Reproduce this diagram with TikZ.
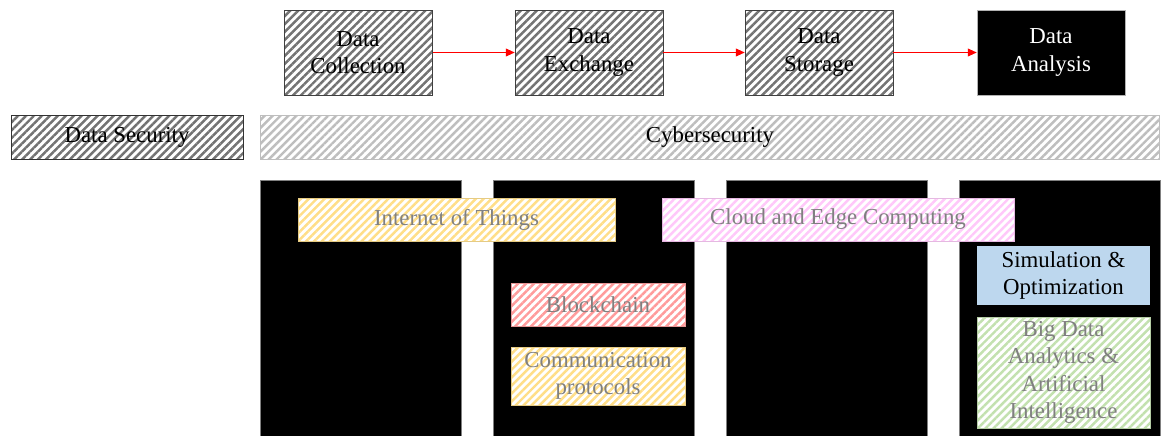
\documentclass[tikz,border=0pt]{standalone}
\usepackage{fontspec}
\setmainfont{Liberation Serif}
\newfontfamily\diagfont{Liberation Serif}
\usetikzlibrary{arrows.meta,positioning,patterns.meta}
\definecolor{hatchdark}{RGB}{115,115,115}
\definecolor{hatchlight}{RGB}{190,190,190}
\definecolor{iotyellow}{RGB}{255,222,135}
\definecolor{cloudpink}{RGB}{255,200,250}
\definecolor{chainred}{RGB}{255,155,155}
\definecolor{aigreen}{RGB}{195,225,175}
\definecolor{simblue}{RGB}{189,215,238}
\definecolor{labelgray}{RGB}{128,128,128}
\tikzset{
  hatch/.style={preaction={fill=white},
    pattern={Lines[angle=45,distance=3.2pt,line width=1.4pt]},pattern color=#1},
  txt/.style={align=center,inner sep=1pt,
    font=\diagfont\fontsize{13}{15.5}\selectfont},
  stagebox/.style={txt,hatch=hatchdark,draw=black!75,
    minimum width=2.96cm,minimum height=1.70cm},
  techbox/.style={txt,hatch=#1,draw=#1!80!gray,text=labelgray},
  column/.style={fill=black,draw=gray,minimum width=4.02cm,minimum height=5.12cm},
  flow/.style={red,-{Triangle[length=5pt,width=4.5pt]}}
}

\begin{document}
\begin{tikzpicture}[x=0.02cm,y=-0.02cm]
  \useasboundingbox (0,0) rectangle (1161,436);
  % process stages
  \foreach \name/\x/\lbl in {coll/358/Data\\Collection,
    exch/589/Data\\Exchange, stor/819/Data\\Storage}
    \node[stagebox] (\name) at (\x,52.5) {\lbl};
  \node[txt,fill=black,draw=gray!60,text=white,
    minimum width=2.96cm,minimum height=1.70cm] (anal) at (1051,52.5) {Data\\Analysis};
  \foreach \a/\b in {coll/exch,exch/stor,stor/anal}
    \draw[flow] (\a) -- (\b);

  % security layer
  \node[txt,hatch=hatchdark,draw=black!80,minimum width=4.64cm,
    minimum height=0.88cm] (datasec) at (127,137) {Data Security};
  \node[txt,hatch=hatchlight,draw=hatchlight,minimum width=17.98cm,
    minimum height=0.88cm] (cyber) at (710,137) {Cybersecurity};

  % columns
  \foreach \x [count=\i] in {360.5,593.5,826.5,1060}
    \node[column] (col\i) at (\x,308) {};

  % technologies
  \node[techbox=iotyellow,minimum width=6.34cm,minimum height=0.86cm]
    (iot) at (456.5,219.5) {Internet of Things};
  \node[techbox=cloudpink,minimum width=7.04cm,minimum height=0.86cm]
    (cloud) at (838,219.5) {Cloud and Edge Computing};
  \node[techbox=chainred,minimum width=3.48cm,minimum height=0.86cm]
    (chain) at (598,304.5) {Blockchain};
  \node[techbox=iotyellow,minimum width=3.48cm,minimum height=1.16cm]
    (comm) at (598,376) {Communication\\protocols};
  \node[txt,fill=simblue,minimum width=3.46cm,minimum height=1.18cm]
    (sim) at (1063.5,275.5) {Simulation \&\\Optimization};
  \node[techbox=aigreen,minimum width=3.46cm,minimum height=2.22cm]
    (ai) at (1063.5,372.5) {Big Data\\Analytics \&\\Artificial\\Intelligence};
\end{tikzpicture}
\end{document}
